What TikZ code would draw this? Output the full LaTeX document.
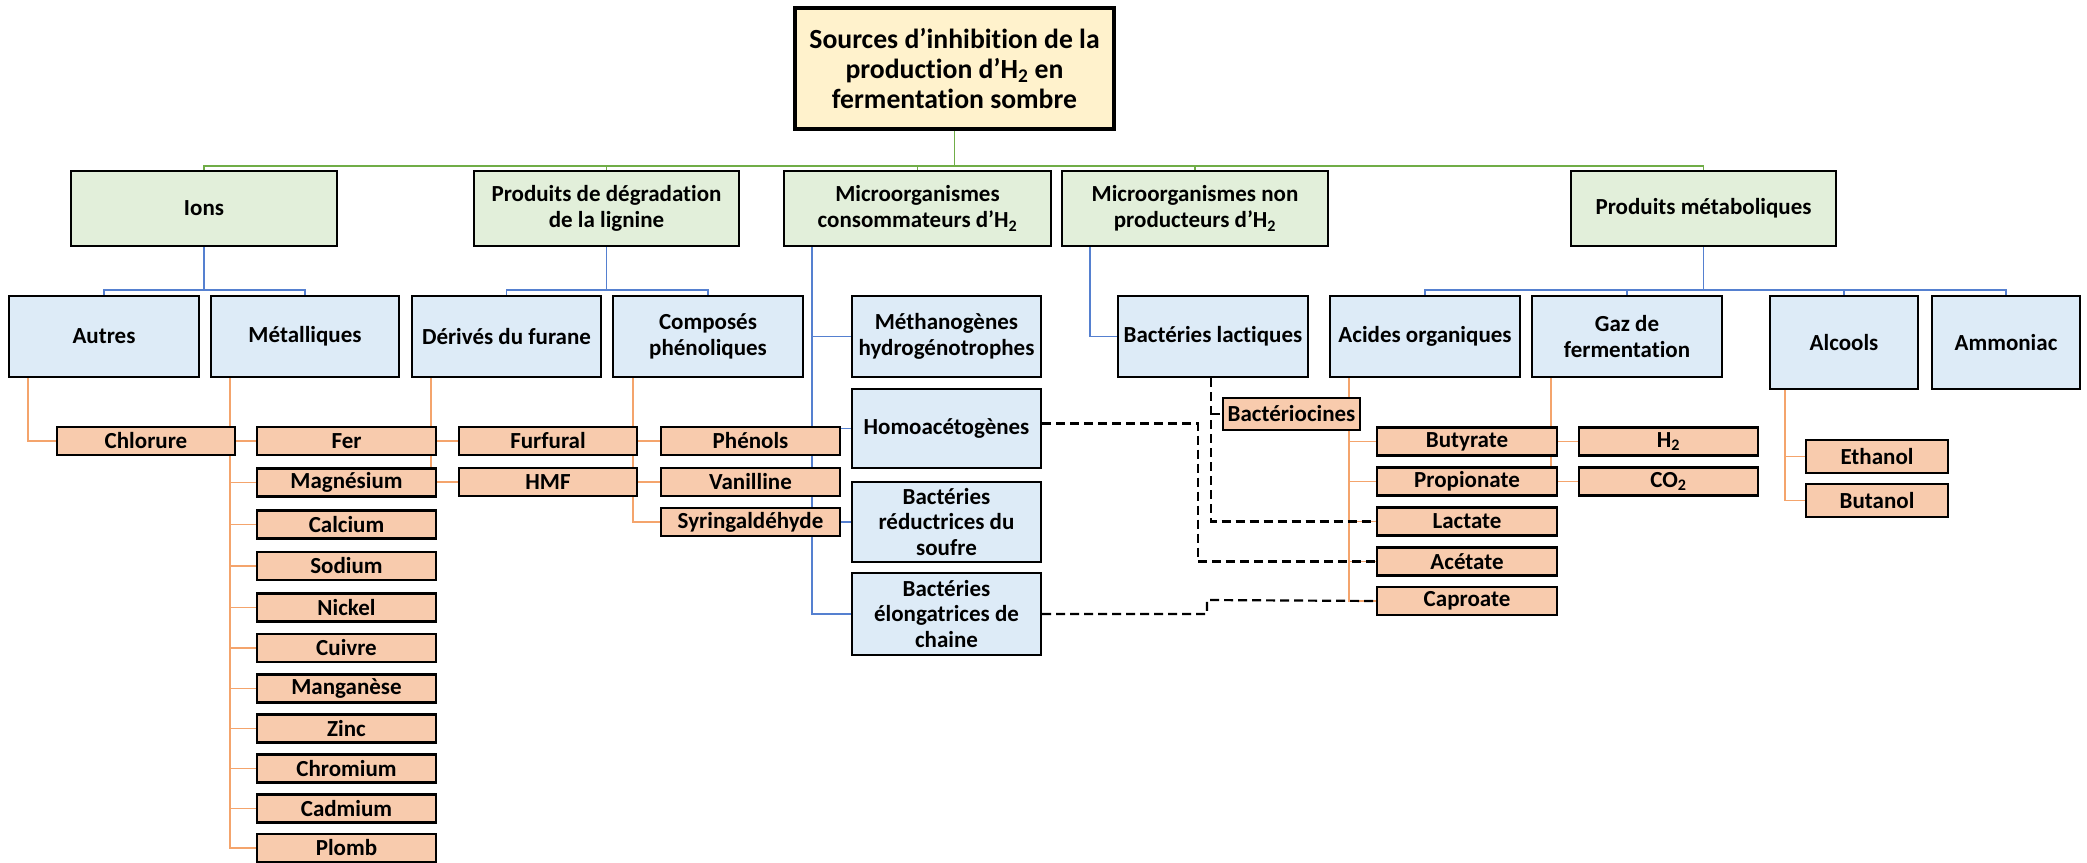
\documentclass[tikz,border=0pt]{standalone}
\usepackage{fontspec}
\setmainfont{Carlito}[Ligatures={NoCommon,NoContextual,NoRequired},RawFeature={-liga;-clig;-dlig;-calt;-rlig}]
\usetikzlibrary{shadows}
\definecolor{titlefill}{HTML}{FFF2CC}
\definecolor{greenfill}{HTML}{E2EFDA}
\definecolor{bluefill}{HTML}{DDEBF7}
\definecolor{orangefill}{HTML}{F8CBAD}
\definecolor{greenline}{HTML}{70AD47}
\definecolor{blueline}{HTML}{5580D0}
\definecolor{orangeline}{HTML}{F4A46C}
\pgfdeclarelayer{bg}
\pgfsetlayers{bg,main}
\begin{document}
\begin{tikzpicture}[x=1pt,y=-1pt,
  box/.style={draw=black, line width=2.3pt, align=center, inner sep=0pt,
    font=\fontsize{23}{25.7}\selectfont\bfseries,
    drop shadow={shadow xshift=1.3pt, shadow yshift=-1.3pt, fill=black!50, opacity=0.8}},
  titlebox/.style={box, fill=titlefill, line width=4.6pt,
    font=\fontsize{27.7}{30}\selectfont\bfseries},
  gbox/.style={box, fill=greenfill, minimum height=75pt},
  bbox/.style={box, fill=bluefill, minimum height=81pt},
  obox/.style={box, fill=orangefill, minimum height=28pt},
  gline/.style={draw=greenline, line width=1.8pt},
  bline/.style={draw=blueline, line width=1.6pt},
  oline/.style={draw=orangeline, line width=1.5pt},
  dline/.style={draw=black, line width=2.2pt, dash pattern=on 9pt off 5pt}]

\useasboundingbox (0,0) rectangle (2087,862);

% title
\node[titlebox, minimum width=319pt, minimum height=121pt] (title) at (954.5,68.5)
  {Sources d’inhibition de la\\production d’H\textsubscript{2} en\\fermentation sombre};

% level 1
\node[gbox, minimum width=266pt] (ions) at (204,208.5) {Ions};
\node[gbox, minimum width=265pt] (lignine) at (606.5,208.5) {Produits de dégradation\\de la lignine};
\node[gbox, minimum width=267pt] (conso) at (917.5,208.5) {Microorganismes\\consommateurs d’H\textsubscript{2}};
\node[gbox, minimum width=266pt] (nonprod) at (1195,208.5) {Microorganismes non\\producteurs d’H\textsubscript{2}};
\node[gbox, minimum width=265pt] (metab) at (1703.5,208.5) {Produits métaboliques};

% level 2
\node[bbox, minimum width=190pt] (autres) at (104,336.5) {Autres};
\node[bbox, minimum width=188pt] (metal) at (305,336.5) {Métalliques};
\node[bbox, minimum width=189pt] (furane) at (506.5,336.5) {Dérivés du furane};
\node[bbox, minimum width=190pt] (phenol) at (708,336.5) {Composés\\phénoliques};
\node[bbox, minimum width=189pt] (methano) at (946.5,336.5) {Méthanogènes\\hydrogénotrophes};
\node[bbox, minimum width=189pt, minimum height=79pt] (homo) at (946.5,428.5) {Homoacétogènes};
\node[bbox, minimum width=189pt, minimum height=80pt] (reduc) at (946.5,522) {Bactéries\\réductrices du\\soufre};
\node[bbox, minimum width=189pt, minimum height=82pt] (elong) at (946.5,614) {Bactéries\\élongatrices de\\chaine};
\node[bbox, minimum width=190pt] (lactiques) at (1213,336.5) {Bactéries lactiques};
\node[bbox, minimum width=190pt] (acides) at (1425,336.5) {Acides organiques};
\node[bbox, minimum width=190pt] (gaz) at (1627,336.5) {Gaz de\\fermentation};
\node[bbox, minimum width=148pt, minimum height=93pt] (alcools) at (1844,342.5) {Alcools};
\node[bbox, minimum width=148pt, minimum height=93pt] (ammoniac) at (2006,342.5) {Ammoniac};

% orange leaves
\node[obox, minimum width=178pt] (chlorure) at (146,441) {Chlorure};
\node[obox, minimum width=179pt] (fer) at (346.5,441) {Fer};
\node[obox, minimum width=179pt] (magnesium) at (346.5,482.5) {Magnésium};
\node[obox, minimum width=179pt] (calcium) at (346.5,524.5) {Calcium};
\node[obox, minimum width=179pt] (sodium) at (346.5,566) {Sodium};
\node[obox, minimum width=179pt] (nickel) at (346.5,607.5) {Nickel};
\node[obox, minimum width=179pt] (cuivre) at (346.5,648) {Cuivre};
\node[obox, minimum width=179pt] (manganese) at (346.5,688.5) {Manganèse};
\node[obox, minimum width=179pt] (zinc) at (346.5,728.5) {Zinc};
\node[obox, minimum width=179pt] (chromium) at (346.5,768.5) {Chromium};
\node[obox, minimum width=179pt] (cadmium) at (346.5,808.5) {Cadmium};
\node[obox, minimum width=179pt] (plomb) at (346.5,848) {Plomb};
\node[obox, minimum width=178pt] (furfural) at (548,441) {Furfural};
\node[obox, minimum width=178pt] (hmf) at (548,482) {HMF};
\node[obox, minimum width=179pt] (phenols) at (750.5,441) {Phénols};
\node[obox, minimum width=179pt] (vanilline) at (750.5,482) {Vanilline};
\node[obox, minimum width=179pt] (syring) at (750.5,522) {Syringaldéhyde};
\node[obox, minimum width=137pt, minimum height=32pt] (bacterio) at (1291.5,414) {Bactériocines};
\node[obox, minimum width=180pt] (butyrate) at (1467,441.5) {Butyrate};
\node[obox, minimum width=180pt] (propionate) at (1467,481.5) {Propionate};
\node[obox, minimum width=180pt] (lactate) at (1467,521.5) {Lactate};
\node[obox, minimum width=180pt] (acetate) at (1467,561.5) {Acétate};
\node[obox, minimum width=180pt] (caproate) at (1467,601) {Caproate};
\node[obox, minimum width=179pt] (htwo) at (1668.5,441.5) {H\textsubscript{2}};
\node[obox, minimum width=179pt] (cotwo) at (1668.5,481.5) {CO\textsubscript{2}};
\node[obox, minimum width=142pt, minimum height=33pt] (ethanol) at (1877,456.5) {Ethanol};
\node[obox, minimum width=142pt, minimum height=33pt] (butanol) at (1877,500.5) {Butanol};

% helper coordinates
\coordinate (gbus) at (0,166);
\coordinate (bbus) at (0,290);
\coordinate (cv) at (812,0);
\coordinate (nv) at (1090,0);
\coordinate (oa) at (28,0);
\coordinate (om) at (230,0);
\coordinate (of) at (431,0);
\coordinate (op) at (633,0);
\coordinate (oac) at (1349,0);
\coordinate (og) at (1551,0);
\coordinate (oal) at (1785,0);
\coordinate (lv) at (1211,0);
\coordinate (hv) at (1198,0);
\coordinate (ev) at (1207,0);

\begin{pgfonlayer}{bg}
\fill[white] (0,0) rectangle (2087,862);
% green
\draw[gline] (title.south) -- (title.south |- gbus);
\draw[gline] (ions.north) -- (ions.north |- gbus) -- (metab.north |- gbus) -- (metab.north);
\foreach \n in {lignine,conso,nonprod}{\draw[gline] (\n.north) -- (\n.north |- gbus);}
% blue
\draw[bline] (ions.south) -- (ions.south |- bbus);
\draw[bline] (autres.north) -- (autres.north |- bbus) -- (metal.north |- bbus) -- (metal.north);
\draw[bline] (lignine.south) -- (lignine.south |- bbus);
\draw[bline] (furane.north) -- (furane.north |- bbus) -- (phenol.north |- bbus) -- (phenol.north);
\draw[bline] (conso.south -| cv) -- (elong.west -| cv) -- (elong.west);
\foreach \n in {methano,homo,reduc}{\draw[bline] (\n.west -| cv) -- (\n.west);}
\draw[bline] (nonprod.south -| nv) -- (lactiques.west -| nv) -- (lactiques.west);
\draw[bline] (metab.south) -- (metab.south |- bbus);
\draw[bline] (acides.north) -- (acides.north |- bbus) -- (ammoniac.north |- bbus) -- (ammoniac.north);
\draw[bline] (gaz.north) -- (gaz.north |- bbus);
\draw[bline] (alcools.north) -- (alcools.north |- bbus);
% orange
\draw[oline] (autres.south -| oa) |- (chlorure.west);
\draw[oline] (metal.south -| om) |- (plomb.west);
\foreach \n in {fer,magnesium,calcium,sodium,nickel,cuivre,manganese,zinc,chromium,cadmium}{\draw[oline] (\n.west -| om) -- (\n.west);}
\draw[oline] (furane.south -| of) |- (hmf.west);
\draw[oline] (furfural.west -| of) -- (furfural.west);
\draw[oline] (phenol.south -| op) |- (syring.west);
\foreach \n in {phenols,vanilline}{\draw[oline] (\n.west -| op) -- (\n.west);}
\draw[oline] (acides.south -| oac) |- (caproate.west);
\foreach \n in {butyrate,propionate,lactate,acetate}{\draw[oline] (\n.west -| oac) -- (\n.west);}
\draw[oline] (gaz.south -| og) |- (cotwo.west);
\draw[oline] (htwo.west -| og) -- (htwo.west);
\draw[oline] (alcools.south -| oal) |- (butanol.west);
\draw[oline] (ethanol.west -| oal) -- (ethanol.west);
\end{pgfonlayer}

% dashed
\draw[dline] (lactiques.south -| lv) -- (lactate.west -| lv) -- (lactate.west);
\draw[dline] (bacterio.west -| lv) -- (bacterio.west);
\draw[dline] ([yshift=5pt]homo.east) -| (acetate.west -| hv) -- (acetate.west);
\draw[dline] (elong.east) -| ([yshift=14pt]elong.east -| ev) -- (caproate.west);
\end{tikzpicture}
\end{document}
